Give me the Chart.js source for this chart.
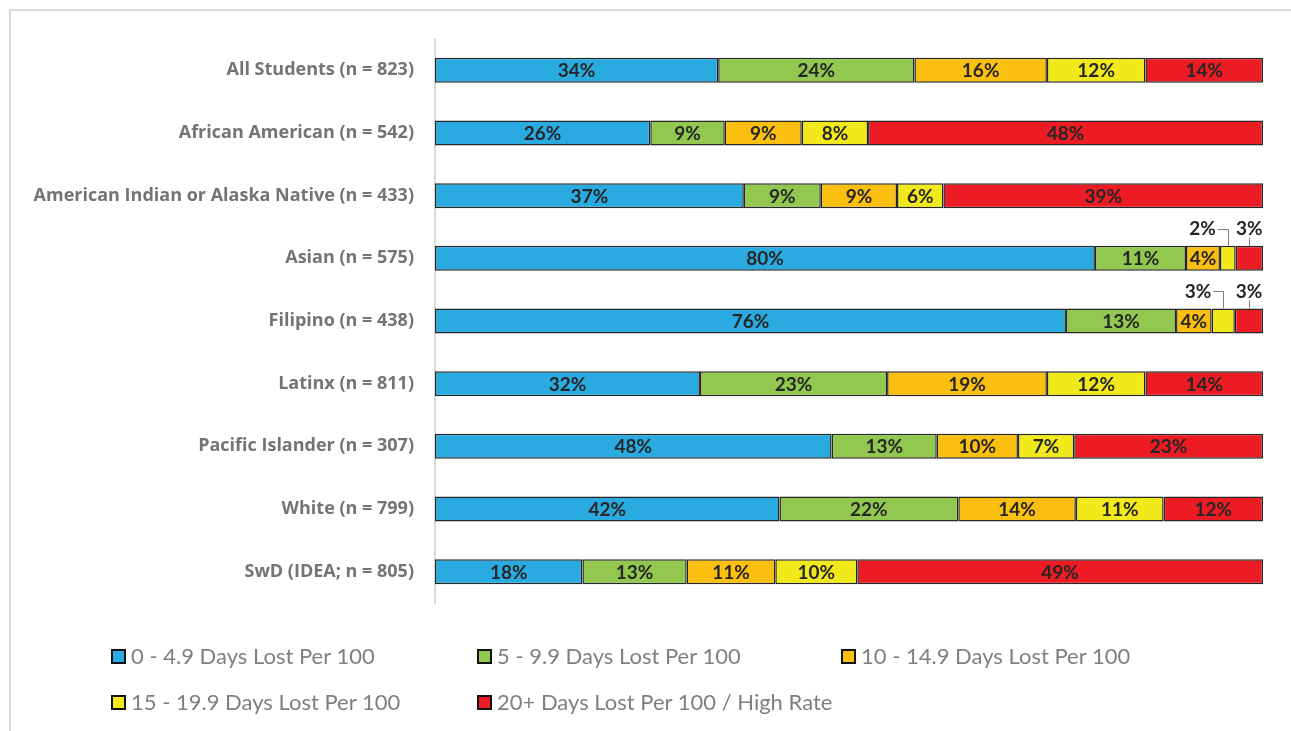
<!DOCTYPE html>
<html>
<head>
<meta charset="utf-8">
<script src="https://cdn.jsdelivr.net/npm/chart.js@4.4.1/dist/chart.umd.min.js"></script>
<style>
  html, body { margin: 0; padding: 0; background: #ffffff; overflow: hidden; }
  #wrap { position: relative; width: 1291px; height: 731px; }
  #frame { position: absolute; left: 9px; top: 9px; width: 1400px; height: 800px; border-left: 2px solid #d9d9d9; border-top: 2px solid #d9d9d9; box-sizing: border-box; }
  #c { position: absolute; left: 0; top: 0; }
  .leg { position: absolute; font-family: Lato, "Open Sans", sans-serif; font-size: 22px; color: #7f7f7f; white-space: nowrap; line-height: 24px; }
  .leg .box { display: inline-block; width: 11px; height: 11px; border: 2px solid #111; vertical-align: middle; margin-right: 5px; position: relative; top: -2px; }
</style>
</head>
<body>
<div id="wrap">
  <div id="frame"></div>
  <canvas id="c" width="1291" height="731"></canvas>
  <div id="legend"></div>
</div>
<script>
// ---- data ----
const categories = [
  "All Students (n = 823)",
  "African American (n = 542)",
  "American Indian or Alaska Native (n = 433)",
  "Asian (n = 575)",
  "Filipino (n = 438)",
  "Latinx (n = 811)",
  "Pacific Islander (n = 307)",
  "White (n = 799)",
  "SwD (IDEA; n = 805)"
];
const seriesNames = [
  "0 - 4.9 Days Lost Per 100",
  "5 - 9.9 Days Lost Per 100",
  "10 - 14.9 Days Lost Per 100",
  "15 - 19.9 Days Lost Per 100",
  "20+ Days Lost Per 100 / High Rate"
];
const days0to5   = [34.2, 26.0, 37.3, 79.7, 76.2, 32.0, 47.9, 41.6, 17.8];
const days5to10  = [23.7,  9.0,  9.3, 11.0, 13.3, 22.6, 12.7, 21.6, 12.6];
const days10to15 = [16.0,  9.3,  9.2,  4.1,  4.3, 19.3,  9.8, 14.2, 10.7];
const days15to20 = [11.9,  8.0,  5.6,  1.9,  2.8, 11.9,  6.8, 10.6,  9.9];
const days20plus = [14.2, 47.7, 38.6,  3.3,  3.4, 14.2, 22.8, 12.0, 49.0];
const seriesColors = ["#29abe2", "#92c850", "#fbbf10", "#f2e91a", "#ed1c24"];

const seriesData = [days0to5, days5to10, days10to15, days15to20, days20plus];

// ---- custom value labels ----
const valueLabels = {
  id: 'valueLabels',
  afterDatasetsDraw(chart) {
    const ctx = chart.ctx;
    ctx.save();
    ctx.font = 'bold 19px Lato, "Open Sans", sans-serif';
    ctx.fillStyle = '#262626';
    ctx.textBaseline = 'middle';
    chart.data.datasets.forEach((ds, di) => {
      const meta = chart.getDatasetMeta(di);
      meta.data.forEach((el, i) => {
        const v = ds.data[i];
        const txt = Math.round(v) + '%';
        const left = Math.min(el.x, el.base), right = Math.max(el.x, el.base);
        const w = right - left;
        const cx = (left + right) / 2;
        const top = el.y - el.height / 2;
        if (w >= 30) {
          ctx.textAlign = 'center';
          ctx.fillText(txt, cx, el.y + 1);
        } else {
          const ly = top - 17;
          ctx.strokeStyle = '#7f7f7f';
          ctx.lineWidth = 1;
          if (di === chart.data.datasets.length - 1) {
            ctx.textAlign = 'center';
            ctx.fillText(txt, cx, ly);
            ctx.beginPath();
            ctx.moveTo(Math.round(cx) + 0.5, top);
            ctx.lineTo(Math.round(cx) + 0.5, top - 8);
            ctx.stroke();
          } else {
            ctx.textAlign = 'right';
            ctx.fillText(txt, cx - 12, ly);
            ctx.beginPath();
            ctx.moveTo(cx - 10, Math.round(ly) + 0.5);
            ctx.lineTo(Math.round(cx) + 0.5, Math.round(ly) + 0.5);
            ctx.lineTo(Math.round(cx) + 0.5, top);
            ctx.stroke();
          }
        }
      });
    });
    ctx.restore();
  }
};

const chart = new Chart(document.getElementById('c'), {
  type: 'bar',
  data: {
    labels: categories,
    datasets: seriesData.map((d, k) => ({
      label: seriesNames[k],
      data: d,
      backgroundColor: seriesColors[k],
      borderColor: '#262626',
      borderWidth: 1.5,
      borderSkipped: false,
      barPercentage: 0.4,
      categoryPercentage: 1.0
    }))
  },
  options: {
    indexAxis: 'y',
    responsive: false,
    animation: false,
    devicePixelRatio: 1,
    layout: { padding: { left: 0, right: 28, top: 39, bottom: 128 } },
    plugins: {
      legend: { display: false },
      tooltip: { enabled: false }
    },
    scales: {
      x: {
        stacked: true,
        min: 0,
        max: 100,
        display: false
      },
      y: {
        stacked: true,
        grid: { display: false, drawTicks: false },
        border: { display: true, color: '#d9d9d9', width: 2 },
        ticks: {
          padding: 21,
          color: '#747474',
          font: { family: '"Open Sans", Lato, sans-serif', size: 18, weight: 'bold' }
        },
        afterFit(scale) { scale.width = 435; }
      }
    }
  },
  plugins: [valueLabels]
});

// ---- legend (HTML) ----
const legendPos = [[111, 644], [477, 644], [841, 644], [111, 690], [477, 690]];
const legendEl = document.getElementById('legend');
seriesNames.forEach((name, k) => {
  const d = document.createElement('div');
  d.className = 'leg';
  d.style.left = legendPos[k][0] + 'px';
  d.style.top = legendPos[k][1] + 'px';
  const b = document.createElement('span');
  b.className = 'box';
  b.style.background = seriesColors[k];
  d.appendChild(b);
  d.appendChild(document.createTextNode(name));
  legendEl.appendChild(d);
});
</script>
</body>
</html>
